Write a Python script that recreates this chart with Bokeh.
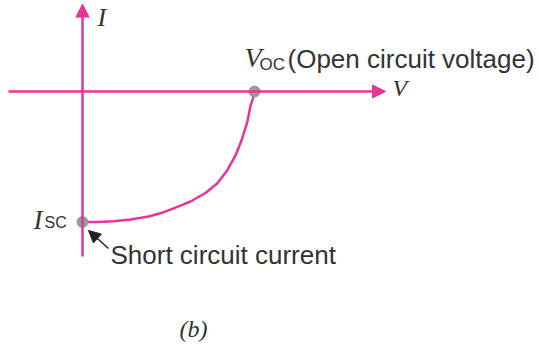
from bokeh.plotting import figure
from bokeh.models import Range1d, Label, Arrow, NormalHead
from bokeh.embed import file_html
from bokeh.resources import INLINE

# ---- data (normalised: V / Voc, I / Isc) ----
V_curve = [0.0, 0.085, 0.182, 0.279, 0.385, 0.473, 0.570, 0.628, 0.715, 0.783,
           0.841, 0.890, 0.928, 0.958, 0.977, 0.991, 0.998, 1.0]
I_curve = [-1.0, -1.0, -0.994, -0.981, -0.958, -0.925, -0.874, -0.843, -0.778, -0.705,
           -0.605, -0.490, -0.362, -0.235, -0.107, -0.054, -0.015, 0.0]
point_V = [1.0, 0.0]      # Voc, Isc points
point_I = [0.0, -1.0]
axis_V = [-0.430, 1.762]  # horizontal axis extent
axis_I = [-1.264, 0.670]  # vertical axis extent

PINK = "#e5359a"
GREY = "#9a9a9a"
TEXT = "#333333"

W, H = 539, 351
SX, SY = 172.0, 130.5     # pixels per unit
OX, OY = 82, 91           # origin in canvas pixels

x0 = -OX / SX
x1 = (W - OX) / SX
y1 = OY / SY
y0 = -(H - OY) / SY

def dx(px):
    return (px - OX) / SX

def dy(py):
    return -(py - OY) / SY

p = figure(width=W, height=H, output_backend="svg", toolbar_location=None,
           x_range=Range1d(x0, x1), y_range=Range1d(y0, y1),
           x_axis_location=None, y_axis_location=None, min_border=0)
p.grid.visible = False
p.outline_line_color = None
p.background_fill_color = "white"
p.border_fill_color = "white"

# axes with arrow heads
p.add_layout(Arrow(end=NormalHead(size=13, fill_color=PINK, line_color=PINK),
                   x_start=axis_V[0], y_start=0, x_end=axis_V[1], y_end=0,
                   line_color=PINK, line_width=2.5))
p.add_layout(Arrow(end=NormalHead(size=13, fill_color=PINK, line_color=PINK),
                   x_start=0, y_start=axis_I[0], x_end=0, y_end=axis_I[1],
                   line_color=PINK, line_width=2.5))

# I-V curve
p.line(V_curve, I_curve, line_color=PINK, line_width=2.5, line_join="round")
p.scatter(point_V, point_I, size=11, fill_color=GREY, line_color=GREY)

# pointer arrow to Isc
p.add_layout(Arrow(end=NormalHead(size=12, fill_color="#222222", line_color="#222222"),
                   x_start=dx(108), y_start=dy(248), x_end=dx(88), y_end=dy(230),
                   line_color="#222222", line_width=1.5))

SERIF = "Liberation Serif"
SANS = "Liberation Sans"
SHIFT = -8

def lab(txt, px, py, size, font, style="normal", align="left"):
    p.add_layout(Label(x=dx(px), y=dy(py + SHIFT), text=txt, text_font=font,
                       text_font_size=f"{size}px", text_font_style=style,
                       text_color=TEXT, text_align=align, text_baseline="alphabetic"))

lab("I", 97, 25, 26, SERIF, "italic")
lab("V", 392, 95, 24, SERIF, "italic")
lab("V", 244, 65, 28, SERIF, "italic")
lab("OC", 259, 72, 17, SANS)
lab("(Open circuit voltage)", 287, 66, 26, SANS)
lab("I", 33, 227, 27, SERIF, "italic")
lab("SC", 44, 230, 16, SANS)
lab("Short circuit current", 110, 262, 26, SANS)
lab("(b)", 193, 336, 24, SERIF, "italic", "center")

open("out.html", "w").write(file_html(p, INLINE))
